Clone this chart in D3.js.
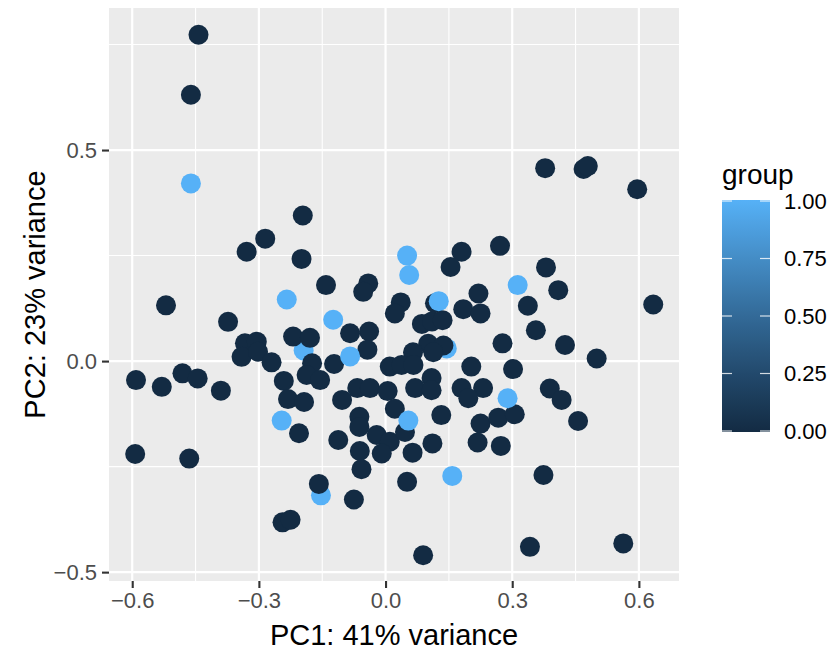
<!DOCTYPE html>
<html>
<head>
<meta charset="utf-8">
<script src="https://cdn.jsdelivr.net/npm/d3@7"></script>
<style>
  body { margin: 0; background: #ffffff; }
  text { font-family: "Liberation Sans", Arial, sans-serif; }
</style>
</head>
<body>
<script>
// PCA scores, in drawing order
var pc1 = [-0.194, 0.145, -0.153,
  -0.443, -0.461, 0.378, 0.469, 0.479, 0.596, -0.196, -0.285, -0.329, -0.199,
  -0.520, -0.373, -0.219, -0.179, -0.333, -0.305, -0.341, -0.302, -0.270, -0.591,
  -0.530, -0.481, -0.445, -0.390, -0.241, -0.231, -0.193, -0.205, -0.593, -0.465,
  -0.244, -0.225, -0.141, -0.041, -0.053, 0.036, 0.022, 0.117, 0.180, 0.154,
  0.271, 0.184, 0.220, 0.225, 0.086, 0.110, 0.135, -0.084, -0.039, -0.043,
  -0.122, -0.174, -0.187, -0.155, 0.101, 0.137, 0.065, 0.113, 0.010, 0.038,
  0.066, 0.203, 0.277, -0.067, -0.037, 0.005, -0.103, 0.070, 0.109, 0.109,
  0.180, 0.231, 0.196, 0.022, 0.132, -0.062, -0.062, -0.112, -0.061, -0.057,
  -0.021, 0.010, -0.009, 0.046, 0.064, 0.111, 0.225, 0.218, 0.273, -0.158,
  -0.075, 0.051, 0.089, 0.267, 0.306, 0.389, 0.417, 0.456, 0.374, 0.342,
  0.563, 0.380, 0.409, 0.337, 0.634, 0.356, 0.425, 0.500, 0.302,
  -0.461, -0.234, 0.051, 0.056, -0.124, -0.084, 0.126, 0.313, 0.289, -0.246,
  0.054, 0.158];
var pc2 = [0.025, 0.030, -0.318,
  0.773, 0.631, 0.457, 0.455, 0.462, 0.407, 0.345, 0.290, 0.259, 0.242,
  0.132, 0.093, 0.058, 0.055, 0.042, 0.046, 0.010, 0.022, -0.003, -0.045,
  -0.061, -0.029, -0.041, -0.070, -0.047, -0.090, -0.097, -0.171, -0.220, -0.231,
  -0.382, -0.376, 0.180, 0.184, 0.164, 0.139, 0.113, 0.137, 0.259, 0.223,
  0.273, 0.123, 0.160, 0.113, 0.088, 0.094, 0.097, 0.066, 0.070, 0.027,
  -0.007, -0.005, -0.033, -0.045, 0.041, 0.037, 0.021, 0.021, -0.013, -0.009,
  -0.009, -0.013, 0.042, -0.064, -0.064, -0.071, -0.092, -0.064, -0.040, -0.069,
  -0.064, -0.064, -0.088, -0.113, -0.128, -0.132, -0.156, -0.187, -0.213, -0.256,
  -0.175, -0.191, -0.219, -0.168, -0.217, -0.195, -0.148, -0.193, -0.201, -0.291,
  -0.328, -0.286, -0.460, -0.134, -0.126, -0.065, -0.092, -0.142, -0.270, -0.440,
  -0.432, 0.222, 0.168, 0.131, 0.134, 0.073, 0.038, 0.006, -0.019,
  0.421, 0.146, 0.250, 0.204, 0.098, 0.011, 0.142, 0.180, -0.088, -0.141,
  -0.141, -0.272];
var group = [1, 1, 1,
  0, 0, 0, 0, 0, 0, 0, 0, 0, 0,
  0, 0, 0, 0, 0, 0, 0, 0, 0, 0,
  0, 0, 0, 0, 0, 0, 0, 0, 0, 0,
  0, 0, 0, 0, 0, 0, 0, 0, 0, 0,
  0, 0, 0, 0, 0, 0, 0, 0, 0, 0,
  0, 0, 0, 0, 0, 0, 0, 0, 0, 0,
  0, 0, 0, 0, 0, 0, 0, 0, 0, 0,
  0, 0, 0, 0, 0, 0, 0, 0, 0, 0,
  0, 0, 0, 0, 0, 0, 0, 0, 0, 0,
  0, 0, 0, 0, 0, 0, 0, 0, 0, 0,
  0, 0, 0, 0, 0, 0, 0, 0, 0,
  1, 1, 1, 1, 1, 1, 1, 1, 1, 1,
  1, 1];

var xTicks = [-0.6, -0.3, 0.0, 0.3, 0.6];
var xMinor = [-0.45, -0.15, 0.15, 0.45];
var yTicks = [-0.5, 0.0, 0.5];
var yMinor = [-0.25, 0.25, 0.75];
var legendTicks = [0, 0.25, 0.5, 0.75, 1];
var xLabel = "PC1: 41% variance";
var yLabel = "PC2: 23% variance";
var legendTitle = "group";

var points = pc1.map(function (d, i) {
  return {x: d, y: pc2[i], g: group[i]};
});

var W = 834, H = 652;
var panel = {left: 109, right: 679, top: 8, bottom: 581};

var svg = d3.select("body").append("svg")
  .attr("width", W)
  .attr("height", H);

var x = d3.scaleLinear()
  .domain([-0.655, 0.695])
  .range([panel.left, panel.right]);

var y = d3.scaleLinear()
  .domain([-0.521, 0.8365])
  .range([panel.bottom, panel.top]);

var color = d3.scaleLinear()
  .domain([0, 1])
  .range(["#132B43", "#56B1F7"])
  .interpolate(d3.interpolateLab);

// panel background
svg.append("rect")
  .attr("x", panel.left)
  .attr("y", panel.top)
  .attr("width", panel.right - panel.left)
  .attr("height", panel.bottom - panel.top)
  .attr("fill", "#EBEBEB");

// grid lines, minor first
var grid = svg.append("g");
grid.selectAll(".xminor").data(xMinor).enter().append("line")
  .attr("x1", x).attr("x2", x)
  .attr("y1", panel.top).attr("y2", panel.bottom)
  .attr("stroke", "#ffffff").attr("stroke-width", 1.1);
grid.selectAll(".yminor").data(yMinor).enter().append("line")
  .attr("y1", y).attr("y2", y)
  .attr("x1", panel.left).attr("x2", panel.right)
  .attr("stroke", "#ffffff").attr("stroke-width", 1.1);
grid.selectAll(".xmajor").data(xTicks).enter().append("line")
  .attr("x1", x).attr("x2", x)
  .attr("y1", panel.top).attr("y2", panel.bottom)
  .attr("stroke", "#ffffff").attr("stroke-width", 2.2);
grid.selectAll(".ymajor").data(yTicks).enter().append("line")
  .attr("y1", y).attr("y2", y)
  .attr("x1", panel.left).attr("x2", panel.right)
  .attr("stroke", "#ffffff").attr("stroke-width", 2.2);

// points
svg.append("g").selectAll("circle")
  .data(points)
  .enter()
  .append("circle")
  .attr("cx", function (d) { return x(d.x); })
  .attr("cy", function (d) { return y(d.y); })
  .attr("r", 10)
  .attr("fill", function (d) { return color(d.g); });

// axes
var xAxis = d3.axisBottom(x)
  .tickValues(xTicks)
  .tickFormat(d3.format(".1f"))
  .tickSizeInner(7).tickSizeOuter(0).tickPadding(4);
var gx = svg.append("g")
  .attr("transform", "translate(0," + panel.bottom + ")")
  .call(xAxis);

var yAxis = d3.axisLeft(y)
  .tickValues(yTicks)
  .tickFormat(d3.format(".1f"))
  .tickSizeInner(7).tickSizeOuter(0).tickPadding(5);
var gy = svg.append("g")
  .attr("transform", "translate(" + panel.left + ",0)")
  .call(yAxis);

[gx, gy].forEach(function (g) {
  g.select(".domain").remove();
  g.selectAll(".tick line").attr("stroke", "#333333").attr("stroke-width", 2.1);
  g.selectAll(".tick text")
    .attr("fill", "#4D4D4D")
    .style("font-size", "22px")
    .style("font-family", "'Liberation Sans', Arial, sans-serif");
});

// axis titles
svg.append("text")
  .attr("x", (panel.left + panel.right) / 2)
  .attr("y", 645)
  .attr("text-anchor", "middle")
  .style("font-size", "29px")
  .text(xLabel);

svg.append("text")
  .attr("transform", "translate(45," + ((panel.top + panel.bottom) / 2) + ") rotate(-90)")
  .attr("text-anchor", "middle")
  .style("font-size", "29px")
  .text(yLabel);

// legend: colour bar
var bar = {x: 722, w: 48, top: 200, bottom: 432};
var defs = svg.append("defs");
var grad = defs.append("linearGradient")
  .attr("id", "bargrad")
  .attr("x1", 0).attr("y1", 1).attr("x2", 0).attr("y2", 0);
d3.range(0, 1.0001, 0.05).forEach(function (t) {
  grad.append("stop")
    .attr("offset", t)
    .attr("stop-color", color(t));
});

svg.append("text")
  .attr("x", bar.x)
  .attr("y", 184)
  .style("font-size", "28px")
  .text(legendTitle);

svg.append("rect")
  .attr("x", bar.x)
  .attr("y", bar.top)
  .attr("width", bar.w)
  .attr("height", bar.bottom - bar.top)
  .attr("fill", "url(#bargrad)");

var ly = d3.scaleLinear().domain([0, 1]).range([bar.bottom - 1, bar.top + 1]);
var lt = svg.append("g").selectAll("g").data(legendTicks).enter().append("g");
lt.append("line")
  .attr("x1", bar.x).attr("x2", bar.x + 10)
  .attr("y1", ly).attr("y2", ly)
  .attr("stroke", "#ffffff").attr("stroke-opacity", 0.8).attr("stroke-width", 1.2);
lt.append("line")
  .attr("x1", bar.x + bar.w - 10).attr("x2", bar.x + bar.w)
  .attr("y1", ly).attr("y2", ly)
  .attr("stroke", "#ffffff").attr("stroke-opacity", 0.8).attr("stroke-width", 1.2);
lt.append("text")
  .attr("x", bar.x + bar.w + 14)
  .attr("y", ly)
  .attr("dy", "0.36em")
  .attr("fill", "#000000")
  .style("font-size", "22px")
  .text(d3.format(".2f"));
</script>
</body>
</html>
